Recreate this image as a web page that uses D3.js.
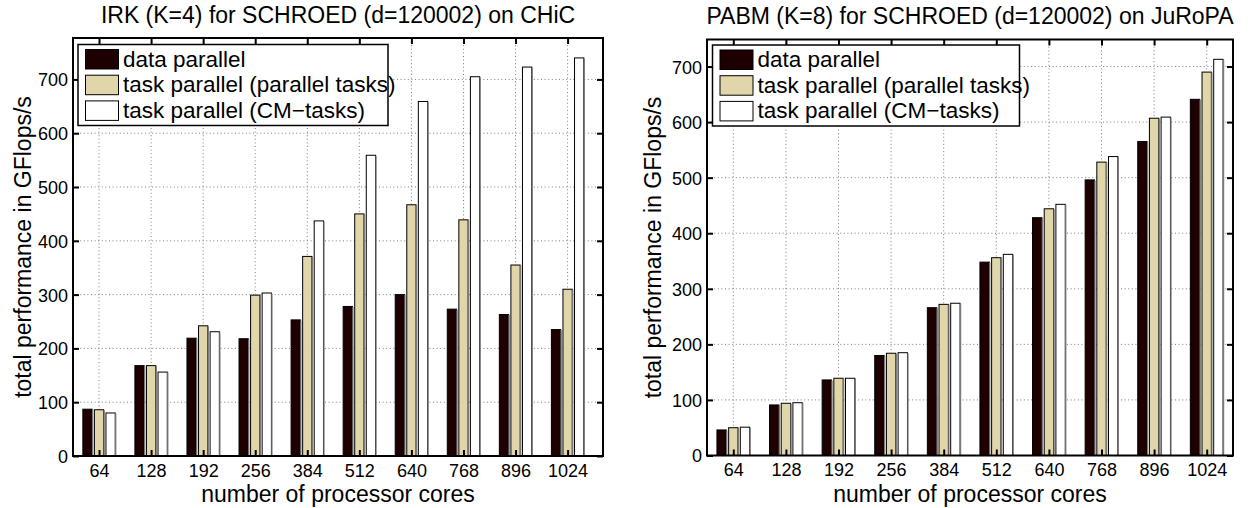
<!DOCTYPE html>
<html lang="en">
<head>
    <meta charset="utf-8">
    <script src="https://d3js.org/d3.v7.min.js"></script>
    <style>
        body {
            margin: 0px;
            background: #fff;
        }
        text {
            font-family: "Liberation Sans", Arial, sans-serif;
            fill: #000;
        }
        .grid line {
            stroke: #7d7d7d;
            stroke-width: 1;
            stroke-dasharray: 1, 2.6;
        }
    </style>
</head>
<body>
<svg id="chart"></svg>
<script>
// Categories (number of processor cores)
var cores = ["64", "128", "192", "256", "384", "512", "640", "768", "896", "1024"];

// Series names
var seriesNames = ["data parallel", "task parallel (parallel tasks)", "task parallel (CM\u2212tasks)"];
var seriesColors = ["#1f0000", "#e0d6a9", "#ffffff"];

// IRK (K=4) on CHiC, GFlops/s
var irkDataPar = [87, 168, 219, 218, 253, 278, 300, 273, 263, 235];
var irkParTasks = [86, 168, 242, 299, 371, 450, 467, 439, 355, 310];
var irkCMTasks = [80, 156, 231, 303, 437, 559, 659, 705, 723, 740];

// PABM (K=8) on JuRoPA, GFlops/s
var pabmDataPar = [46, 91, 136, 180, 266, 348, 428, 496, 565, 641];
var pabmParTasks = [50, 94, 139, 184, 272, 356, 444, 528, 607, 690];
var pabmCMTasks = [51, 95, 139, 185, 274, 362, 452, 538, 609, 713];

// Y tick values
var yTicks = [0, 100, 200, 300, 400, 500, 600, 700];

var width = 1259;
var height = 508;

var svg = d3.select("#chart")
    .attr("width", width)
    .attr("height", height);

// Draw one grouped bar chart panel
function drawPanel(p) {
    var w = p.x1 - p.x0;
    var h = p.y1 - p.y0;
    var g = svg.append("g")
        .attr("transform", "translate(" + p.x0 + "," + p.y0 + ")");

    var ymax = d3.max(p.series, function(s) { return d3.max(s); }) * 1.05;
    var x = d3.scaleLinear().domain(p.xlim).range([0, w]);
    var y = d3.scaleLinear().domain([0, ymax]).range([h, 0]);

    var idx = d3.range(cores.length).map(function(i) { return i + 1; });

    // dotted grid
    g.append("g").attr("class", "grid")
        .selectAll("line.gy").data(yTicks).enter().append("line")
        .attr("x1", 0).attr("x2", w)
        .attr("y1", function(d) { return y(d); })
        .attr("y2", function(d) { return y(d); });
    g.append("g").attr("class", "grid")
        .selectAll("line.gx").data(idx).enter().append("line")
        .attr("y1", 0).attr("y2", h)
        .attr("x1", function(d) { return x(d); })
        .attr("x2", function(d) { return x(d); });

    // bars (matlab style grouped bars)
    var offset = 0.222;
    var bw = 0.178;
    p.series.forEach(function(vals, si) {
        var sg = g.append("g");
        var bars = sg.selectAll("g").data(vals).enter().append("g");
        bars.append("rect")
            .attr("x", function(d, i) { return x(i + 1 + (si - 1) * offset - bw / 2); })
            .attr("y", function(d) { return y(d); })
            .attr("width", x(bw) - x(0))
            .attr("height", function(d) { return h - y(d); })
            .style("fill", seriesColors[si])
            .style("stroke", "#000")
            .style("stroke-width", 1);
        // grey right edge
        bars.append("line")
            .attr("x1", function(d, i) { return x(i + 1 + (si - 1) * offset + bw / 2) + 0.5; })
            .attr("x2", function(d, i) { return x(i + 1 + (si - 1) * offset + bw / 2) + 0.5; })
            .attr("y1", function(d) { return y(d) + 0.5; })
            .attr("y2", h)
            .style("stroke", "#7a7a7a")
            .style("stroke-width", 1.3);
    });

    // axes with inward ticks
    var xb = g.append("g").attr("transform", "translate(0," + h + ")")
        .call(d3.axisBottom(x).tickValues(idx).tickSize(-6).tickPadding(8)
            .tickFormat(function(d) { return cores[d - 1]; }));
    var xt = g.append("g")
        .call(d3.axisTop(x).tickValues(idx).tickSize(-6).tickFormat(""));
    var yl = g.append("g")
        .call(d3.axisLeft(y).tickValues(yTicks).tickSize(-6).tickPadding(5));
    var yr = g.append("g").attr("transform", "translate(" + w + ",0)")
        .call(d3.axisRight(y).tickValues(yTicks).tickSize(-6).tickFormat(""));
    [xb, xt, yl, yr].forEach(function(a) {
        a.select(".domain").remove();
        a.selectAll(".tick line").style("stroke", "#000").style("stroke-width", 2);
        a.selectAll("text").style("font-size", "18px")
            .style("font-family", "'Liberation Sans', Arial, sans-serif");
    });
    yl.selectAll("text").attr("dy", "0.36em");

    // axes box
    g.append("rect")
        .attr("x", 0).attr("y", 0).attr("width", w).attr("height", h)
        .style("fill", "none").style("stroke", "#000").style("stroke-width", 2);

    // title
    svg.append("text")
        .attr("x", p.x0 + w / 2)
        .attr("y", p.titleY)
        .attr("text-anchor", "middle")
        .style("font-size", "23px")
        .text(p.title);

    // axis labels
    svg.append("text")
        .attr("x", p.x0 + w / 2)
        .attr("y", p.xlabelY)
        .attr("text-anchor", "middle")
        .style("font-size", "23px")
        .text("number of processor cores");
    svg.append("text")
        .attr("transform", "translate(" + p.ylabelX + "," + (p.y0 + h / 2) + ") rotate(-90)")
        .attr("text-anchor", "middle")
        .style("font-size", "23px")
        .text("total performance in GFlops/s");

    // legend
    var lg = svg.append("g")
        .attr("transform", "translate(" + p.legend[0] + "," + p.legend[1] + ")");
    lg.append("rect")
        .attr("x", 0).attr("y", 0).attr("width", p.legend[2]).attr("height", 81)
        .style("fill", "#fff").style("stroke", "#000").style("stroke-width", 1.5);
    seriesNames.forEach(function(name, i) {
        lg.append("rect")
            .attr("x", 7.5).attr("y", 5 + i * 25.7)
            .attr("width", 33).attr("height", 19.5)
            .style("fill", seriesColors[i])
            .style("stroke", "#000").style("stroke-width", 1);
        lg.append("text")
            .attr("x", 45).attr("y", 22 + i * 25.7)
            .style("font-size", "22.5px")
            .text(name);
    });
}

drawPanel({
    x0: 73, x1: 603, y0: 38, y1: 456,
    xlim: [0.5, 10.68],
    series: [irkDataPar, irkParTasks, irkCMTasks],
    title: "IRK (K=4) for SCHROED (d=120002) on CHiC",
    titleY: 23, xlabelY: 502, ylabelX: 31,
    legend: [78, 44.5, 310]
});

drawPanel({
    x0: 707, x1: 1233, y0: 39.5, y1: 455.5,
    xlim: [0.5, 10.5],
    series: [pabmDataPar, pabmParTasks, pabmCMTasks],
    title: "PABM (K=8) for SCHROED (d=120002) on JuRoPA",
    titleY: 24, xlabelY: 502, ylabelX: 661,
    legend: [712.5, 45, 307]
});
</script>
</body>
</html>
